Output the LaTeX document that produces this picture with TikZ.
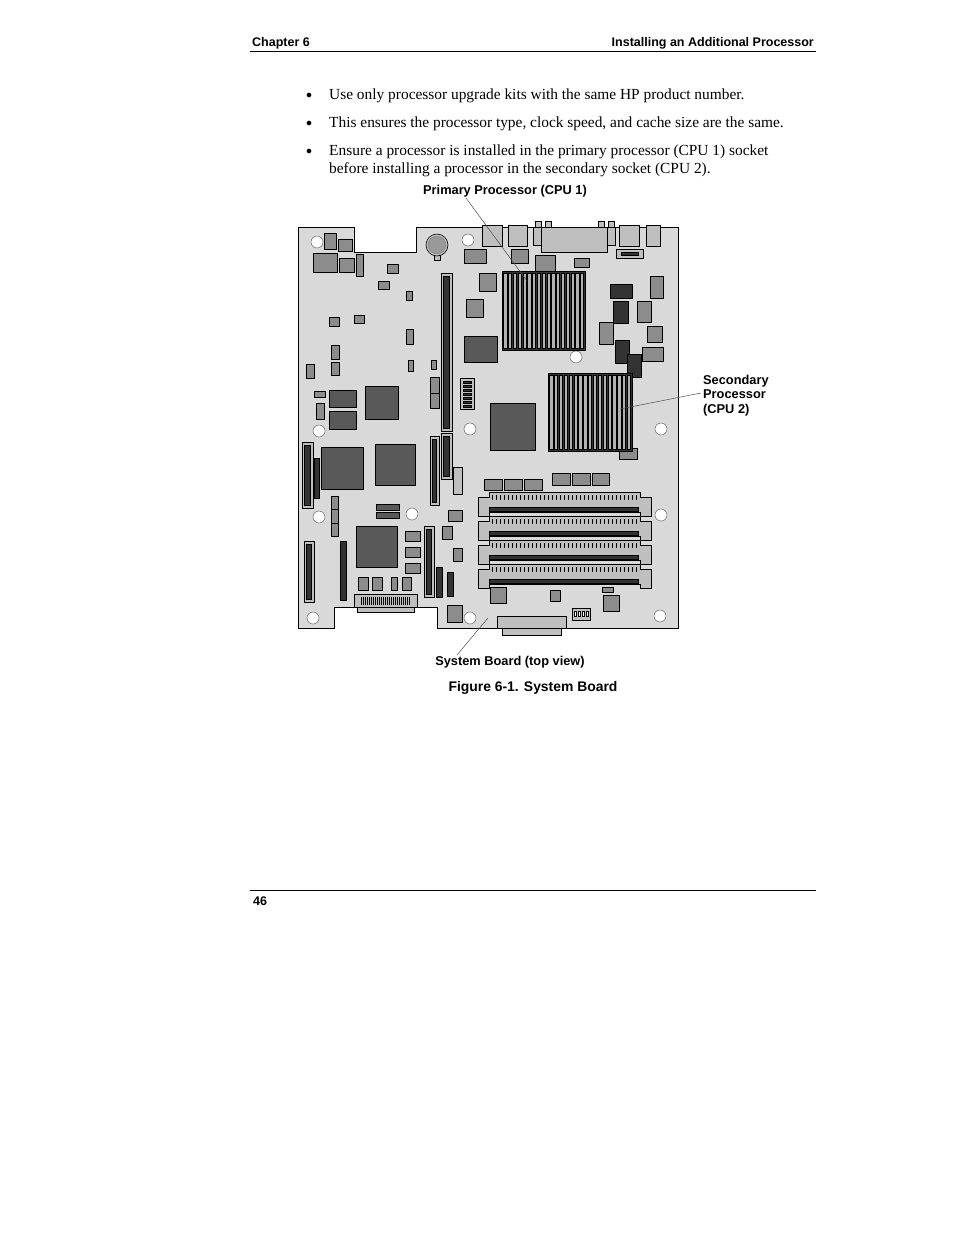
\documentclass[tikz,border=0pt]{standalone}
\usepackage{fontspec}
\setmainfont{Liberation Serif}
\newfontfamily\arialfont{Liberation Sans}
\usetikzlibrary{positioning}
\tikzset{%
  bodytext/.style={anchor=base west, inner sep=0pt, font=\fontsize{15.4}{18}\selectfont},
  headtext/.style={inner sep=0pt, font=\arialfont\bfseries\fontsize{12.5}{14}\selectfont},
  labeltext/.style={inner sep=0pt, font=\arialfont\bfseries\fontsize{12.8}{14.5}\selectfont},
  parta/.style={draw=black, line width=0.6pt, fill=black!45},
  partb/.style={draw=black, line width=0.6pt, fill=black!65},
  partc/.style={draw=black, line width=0.6pt, fill=black!80},
  partl/.style={draw=black, line width=0.6pt, fill=black!25},
  hole/.style={draw=black!60, line width=0.5pt, fill=white},
  leader/.style={draw=black!70, line width=0.5pt}
}
\begin{document}
\begin{tikzpicture}[x=1pt, y=-1pt]
  \useasboundingbox (0,0) rectangle (954,1235);
  % page header and footer
  \node[headtext, anchor=base west] (chap) at (252,46) {Chapter 6};
  \node[headtext, anchor=base east] (title) at (814,46) {Installing an Additional Processor};
  \draw[line width=0.7pt] (250,51) -- (816,51);
  \draw[line width=0.7pt] (250,890) -- (816,890);
  \node[headtext, anchor=base west] (page) at (253,905) {46};
  % bullets
  \foreach \y in {99,127,155}
    \node[bodytext, font=\fontsize{12}{14}\selectfont] at (306,\y-1) {$\bullet$};
  \node[bodytext] (b1) at (329,99) {Use only processor upgrade kits with the same HP product number.};
  \node[bodytext] (b2) at (329,127) {This ensures the processor type, clock speed, and cache size are the same.};
  \node[bodytext] (b3) at (329,155) {Ensure a processor is installed in the primary processor (CPU 1) socket};
  \node[bodytext] (b4) at (329,173) {before installing a processor in the secondary socket (CPU 2).};
  % board outline
  \draw[line width=0.9pt, fill=black!15] (298,227) -- (354,227) -- (354,252) -- (416,252) -- (416,227)
    -- (678,227) -- (678,628) -- (437,628) -- (437,607) -- (334,607) -- (334,628) -- (298,628) -- cycle;
  % top connectors
  \foreach \a/\b in {482/502,508/527,619/639,646/660}
    \draw[partl] (\a,225) rectangle (\b,246);
  \foreach \a in {535,545,598,608}
    \draw[partl] (\a,221) rectangle (\a+6,227);
  \draw[partl] (533,227) rectangle (615,245);
  \draw[partl] (541,227) rectangle (607,252);
  \draw[partl] (616,249) rectangle (643,258);
  \draw[partc] (621,252) rectangle (638,255);
  % battery
  \draw[partl] (434,252) rectangle (440,260);
  \draw[partl] (437,245) circle (11);
  \draw[draw=black!50, fill=black!40] (437,245) circle (9);
  % medium parts
  \foreach \a/\b/\c/\d in {324/233/336/249, 338/239/352/251, 313/253/337/272, 339/258/354/272,
      356/254/363/276, 387/264/398/273, 378/281/389/289, 406/291/412/300, 329/317/339/326,
      354/315/364/323, 406/329/413/344, 331/345/339/359, 331/362/339/375, 306/364/314/378,
      408/360/413/371, 431/360/436/369, 314/391/325/397, 316/403/324/419, 464/249/486/263,
      511/249/528/263, 535/255/555/271, 574/258/589/267, 479/273/496/291, 466/299/483/317,
      650/276/663/298, 637/301/651/322, 647/326/662/342, 599/322/613/344, 642/347/663/361,
      619/448/637/459, 448/510/462/521, 442/526/452/539, 453/548/462/561, 405/531/420/541,
      405/547/420/557, 405/563/420/573, 331/496/338/509, 331/509/338/523, 331/523/338/536,
      358/577/368/590, 372/577/382/590, 391/577/397/590, 402/577/411/590, 490/587/506/603,
      550/590/560/601, 602/587/613/592, 603/595/619/611, 447/605/462/622, 430/377/439/393,
      430/393/439/408, 484/479/502/490, 504/479/522/490, 524/479/542/490, 552/473/570/485,
      572/473/590/485, 592/473/609/485}
    \draw[parta] (\a,\b) rectangle (\c,\d);
  \foreach \a/\b/\c/\d in {329/390/356/407, 329/411/356/429, 376/504/399/510, 376/512/399/518}
    \draw[partb] (\a,\b) rectangle (\c,\d);
  % dark parts
  \foreach \a/\b/\c/\d in {610/284/632/298, 613/301/628/323, 615/340/629/363, 627/354/641/377,
      314/458/319/498, 436/567/442/597, 447/572/453/596, 340/541/346/600}
    \draw[partc] (\a,\b) rectangle (\c,\d);
  % large chips
  \foreach \a/\b/\c/\d in {490/403/535/450, 464/336/497/362, 365/386/398/419, 321/447/363/489,
      375/444/415/485, 356/526/397/567}
    \draw[partb] (\a,\b) rectangle (\c,\d);
  % slots
  \foreach \a/\b/\c/\d in {441/273/452/431, 302/442/313/508, 430/436/439/505, 441/433/452/479,
      424/526/434/597, 304/541/314/602}
    {\draw[partl] (\a,\b) rectangle (\c,\d);
     \draw[partc] (\a+2.5,\b+3) rectangle (\c-2.5,\d-3);}
  \draw[partl] (453,467) rectangle (462,494);
  % switch
  \draw[partl] (460,378) rectangle (474,409);
  \foreach \i in {0,...,6}
    \draw[partc] (463,381+\i*4) rectangle (471,383.5+\i*4);
  \draw[partl] (572,608) rectangle (590,620);
  \foreach \i in {0,...,3}
    \draw[draw=black, fill=white, line width=0.4pt] (574+\i*4,611) rectangle (576.5+\i*4,616);
  % processors
  \draw[partc] (502,271) rectangle (585,350);
  \foreach \i in {0,...,16}
    \draw[draw=black, fill=black!30, line width=0.4pt] (503.5+\i*4.8,273) rectangle (506.8+\i*4.8,348);
  \draw[partc] (548,373) rectangle (632,451);
  \foreach \i in {0,...,16}
    \draw[draw=black, fill=black!30, line width=0.4pt] (549.5+\i*4.85,375) rectangle (552.8+\i*4.85,449);
  % memory slots
  \foreach \y in {492,516,540,564}
    {\draw[partl] (478,\y+5) -- (489,\y+5) -- (489,\y) -- (640,\y) -- (640,\y+5) -- (651,\y+5)
        -- (651,\y+24) -- (640,\y+24) -- (640,\y+20) -- (489,\y+20) -- (489,\y+24) -- (478,\y+24) -- cycle;
     \draw[partc] (489,\y+15) rectangle (638,\y+19);
     \foreach \i in {0,...,36}
       \draw[line width=0.6pt] (492+\i*4,\y+3) -- (492+\i*4,\y+8);}
  % bottom connectors
  \draw[partl] (354,594) rectangle (417,607);
  \draw[partl] (357,607) rectangle (414,612);
  \foreach \i in {0,...,24}
    \draw[line width=0.6pt] (361+\i*2,597) -- (361+\i*2,605);
  \draw[partl] (497,616) rectangle (566,628);
  \draw[partl] (502,628) rectangle (561,635);
  % mounting holes
  \foreach \x/\y in {317/242, 468/240, 576/357, 319/431, 470/429, 661/429, 319/517, 412/514,
      661/515, 313/618, 470/618, 660/616}
    \draw[hole] (\x,\y) circle (6);
  % labels
  \node[labeltext] (cpu1) at (505,191) {Primary Processor (CPU 1)};
  \node[labeltext, anchor=north west, align=left]
    (cpu2) at (703,375) {Secondary\\Processor\\(CPU 2)};
  \node[labeltext] (board) at (510,662) {System Board (top view)};
  \node[labeltext, font=\arialfont\bfseries\fontsize{13.9}{16}\selectfont] (fig) at (533,688) {Figure 6-1. System Board};
  \coordinate (p1) at (527,281);
  \coordinate (p2) at (620,409);
  \coordinate (p3) at (488,618);
  \draw[leader] (466,198) -- (p1);
  \draw[leader] (701,393) -- (p2);
  \draw[leader] (457,655) -- (p3);
\end{tikzpicture}
\end{document}
